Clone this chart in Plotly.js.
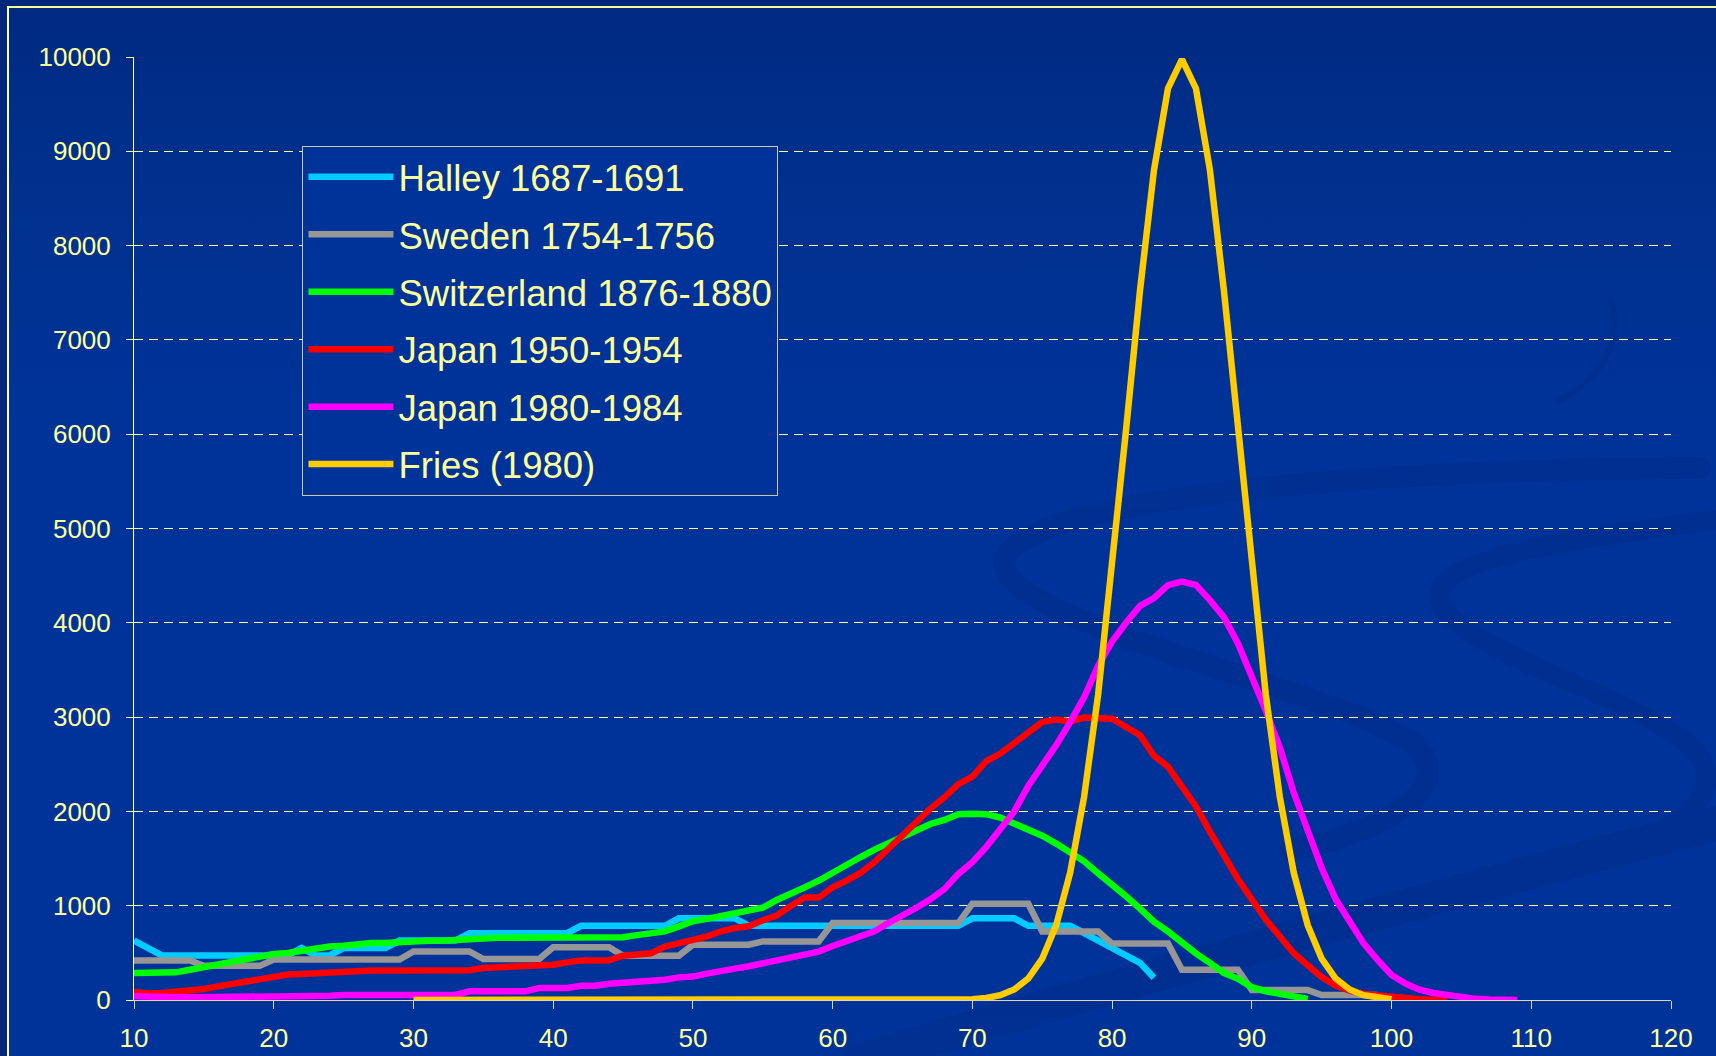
<!DOCTYPE html>
<html>
<head>
<meta charset="utf-8">
<script src="https://cdn.plot.ly/plotly-3.0.1.min.js"></script>
<style>
  html, body { margin: 0; padding: 0; width: 1716px; height: 1056px; overflow: hidden; background: #00287a; }
  #frame { position: absolute; left: 7px; top: 6px; width: 1730px; height: 1070px;
           border-top: 2px solid #FFFF99; border-left: 2px solid #FFFF99;
           background: linear-gradient(to bottom, #002a82 0%, #00318f 18%, #003399 40%, #003399 100%); }
  #deco { position: absolute; left: 0; top: 0; }
  #chart { position: absolute; left: 0; top: 0; width: 1716px; height: 1056px; }
</style>
</head>
<body>
<div id="frame"></div>
<svg id="deco" width="1716" height="1056" viewBox="0 0 1716 1056">
  <g fill="none" stroke="#002c88" stroke-linecap="round" opacity="0.45">
    <path d="M1700,468 C1300,470 1020,505 1005,560 C995,620 1300,680 1410,740 C1460,780 1400,830 1290,850" stroke-width="22"/>
    <path d="M1716,520 C1560,540 1430,560 1440,600 C1455,650 1620,690 1690,745 C1730,785 1690,820 1640,840" stroke-width="20"/>
    <path d="M860,1060 C1100,990 1400,905 1730,820" stroke-width="34"/>
    <path d="M1610,300 C1625,340 1600,380 1560,400" stroke-width="6"/>
  </g>
</svg>
<div id="chart"></div>
<script>
// ---- Data ----
const halleyAges = [10,11,12,13,14,15,16,17,18,19,20,21,22,23,24,25,26,27,28,29,30,31,32,33,34,35,36,37,38,39,40,41,42,43,44,45,46,47,48,49,50,51,52,53,54,55,56,57,58,59,60,61,62,63,64,65,66,67,68,69,70,71,72,73,74,75,76,77,78,79,80,81,82,83];
const halleyDeaths = [630,551,472,472,472,472,472,472,472,472,472,472,551,472,472,551,551,551,551,630,630,630,630,630,708,708,708,708,708,708,708,708,787,787,787,787,787,787,787,866,866,866,866,866,787,787,787,787,787,787,787,787,787,787,787,787,787,787,787,787,866,866,866,866,787,787,787,787,708,630,551,472,394,236];

const swedenAges = [10,11,12,13,14,15,16,17,18,19,20,21,22,23,24,25,26,27,28,29,30,31,32,33,34,35,36,37,38,39,40,41,42,43,44,45,46,47,48,49,50,51,52,53,54,55,56,57,58,59,60,61,62,63,64,65,66,67,68,69,70,71,72,73,74,75,76,77,78,79,80,81,82,83,84,85,86,87,88,89,90,91,92,93,94,95,96,97,98,99];
const swedenDeaths = [420,420,420,420,420,362,362,362,362,362,430,430,430,430,430,430,430,430,430,430,515,515,515,515,515,434,434,434,434,434,560,560,560,560,560,470,470,470,470,470,586,586,586,586,586,621,621,621,621,621,816,816,816,816,816,816,816,816,816,816,1021,1021,1021,1021,1021,727,727,727,727,727,598,598,598,598,598,321,321,321,321,321,105,105,105,105,105,52,52,52,52,52];

const swissAges = [10,11,12,13,14,15,16,17,18,19,20,21,22,23,24,25,26,27,28,29,30,31,32,33,34,35,36,37,38,39,40,41,42,43,44,45,46,47,48,49,50,51,52,53,54,55,56,57,58,59,60,61,62,63,64,65,66,67,68,69,70,71,72,73,74,75,76,77,78,79,80,81,82,83,84,85,86,87,88,89,90,91,92,93,94];
const swissDeaths = [286,286,286,293,321,350,378,406,438,463,487,498,526,547,568,576,593,604,604,615,629,629,629,639,646,646,660,660,660,660,660,660,660,660,660,665,688,700,728,781,835,860,889,914,943,978,1061,1122,1194,1265,1355,1427,1516,1595,1659,1731,1803,1867,1910,1971,1975,1971,1935,1875,1803,1742,1659,1570,1470,1345,1230,1100,970,830,728,602,495,394,287,226,136,93,65,36,11];

const japan1950Ages = [10,11,12,13,14,15,16,17,18,19,20,21,22,23,24,25,26,27,28,29,30,31,32,33,34,35,36,37,38,39,40,41,42,43,44,45,46,47,48,49,50,51,52,53,54,55,56,57,58,59,60,61,62,63,64,65,66,67,68,69,70,71,72,73,74,75,76,77,78,79,80,81,82,83,84,85,86,87,88,89,90,91,92,93,94,95,96,97,98,99,100,101,102,103,104];
const japan1950Deaths = [84,70,74,84,109,117,145,173,198,226,251,270,275,286,293,293,311,314,314,314,314,314,314,314,316,339,346,346,364,374,374,399,420,420,422,470,480,495,566,595,638,674,728,763,781,846,896,996,1086,1086,1194,1265,1348,1462,1606,1731,1880,2030,2150,2290,2368,2533,2614,2730,2825,2947,2975,2954,2995,2989,2982,2895,2807,2590,2474,2263,2053,1785,1534,1283,1068,853,674,495,369,244,154,100,65,47,29,15,8,3,0];

const japan1980Ages = [10,11,12,13,14,15,16,17,18,19,20,21,22,23,24,25,26,27,28,29,30,31,32,33,34,35,36,37,38,39,40,41,42,43,44,45,46,47,48,49,50,51,52,53,54,55,56,57,58,59,60,61,62,63,64,65,66,67,68,69,70,71,72,73,74,75,76,77,78,79,80,81,82,83,84,85,86,87,88,89,90,91,92,93,94,95,96,97,98,99,100,101,102,103,104,105,106,107,108,109];
const japan1980Deaths = [40,31,28,28,28,28,28,28,28,28,28,28,28,28,45,53,53,53,53,53,53,53,53,53,92,92,92,92,92,127,127,127,152,152,173,180,195,200,215,240,248,280,315,333,358,387,412,441,470,513,573,627,674,728,817,889,978,1068,1176,1337,1462,1624,1803,2000,2270,2474,2702,2947,3211,3544,3800,4000,4180,4263,4400,4437,4402,4240,4060,3784,3440,3070,2680,2200,1800,1400,1070,850,600,425,265,175,110,75,52,25,12,5,3,0];

const friesAges = [30,31,32,33,34,35,36,37,38,39,40,41,42,43,44,45,46,47,48,49,50,51,52,53,54,55,56,57,58,59,60,61,62,63,64,65,66,67,68,69,70,71,72,73,74,75,76,77,78,79,80,81,82,83,84,85,86,87,88,89,90,91,92,93,94,95,96,97,98,99,100];
const friesDeaths = [0,0,0,0,0,0,0,0,0,0,0,0,0,0,0,0,0,0,0,0,0,0,0,0,0,0,0,0,0,0,0,0,0,0,0,0,0,0,0,0,9,22,51,111,227,438,794,1350,2158,3238,4566,6049,7528,8802,9667,9974,9667,8802,7528,6049,4566,3238,2158,1350,794,438,227,111,51,22,9];

const seriesNames = ["Halley 1687-1691","Sweden 1754-1756","Switzerland 1876-1880","Japan 1950-1954","Japan 1980-1984","Fries (1980)"];
const seriesColors = ["#00CCFF","#969696","#00FF00","#FF0000","#FF00FF","#FFCC00"];
const xTickVals = [10,20,30,40,50,60,70,80,90,100,110,120];
const yTickVals = [0,1000,2000,3000,4000,5000,6000,7000,8000,9000,10000];

const xs = [halleyAges, swedenAges, swissAges, japan1950Ages, japan1980Ages, friesAges];
const ys = [halleyDeaths, swedenDeaths, swissDeaths, japan1950Deaths, japan1980Deaths, friesDeaths];

const txt = "#FFFF99";
const traces = seriesNames.map((n, i) => ({
  type: "scatter", mode: "lines", name: n, x: xs[i], y: ys[i],
  legendgroup: "g" + i,
  line: { color: seriesColors[i], width: 6.5 },
  hoverinfo: "skip"
}));

const layout = {
  width: 1716, height: 1056,
  paper_bgcolor: "rgba(0,0,0,0)", plot_bgcolor: "rgba(0,0,0,0)",
  margin: { l: 133.5, r: 45, t: 57, b: 55.7, pad: 0 },
  font: { family: "Liberation Sans, Arial, sans-serif", color: txt },
  showlegend: true,
  legend: {
    x: 0.1096, y: 0.906, xanchor: "left", yanchor: "top",
    bgcolor: "#003399", bordercolor: "#C8C8A8", borderwidth: 1,
    font: { size: 36.5, color: txt, family: "Liberation Sans, Arial, sans-serif" },
    itemwidth: 85, tracegroupgap: 7, traceorder: "grouped"
  },
  xaxis: {
    range: [10, 120], tickvals: xTickVals, ticktext: xTickVals.map(String),
    showgrid: false, zeroline: false,
    showline: true, linecolor: "#D8D8B8", linewidth: 1,
    ticks: "outside", ticklen: 8, tickcolor: "#D8D8B8", tickwidth: 1,
    tickfont: { size: 26, color: txt }, ticklabelstandoff: 7
  },
  yaxis: {
    range: [0, 10000], tickvals: yTickVals, ticktext: yTickVals.map(String),
    showgrid: true, gridcolor: "#FFFF99", gridwidth: 1, griddash: "9px,6px",
    zeroline: false,
    showline: true, linecolor: "#FFFF99", linewidth: 1,
    ticks: "outside", ticklen: 7, tickcolor: "#FFFF99", tickwidth: 1,
    tickfont: { size: 26, color: txt }, ticklabelstandoff: 10
  }
};

Plotly.newPlot("chart", traces, layout, { displayModeBar: false, staticPlot: true });
</script>
</body>
</html>
